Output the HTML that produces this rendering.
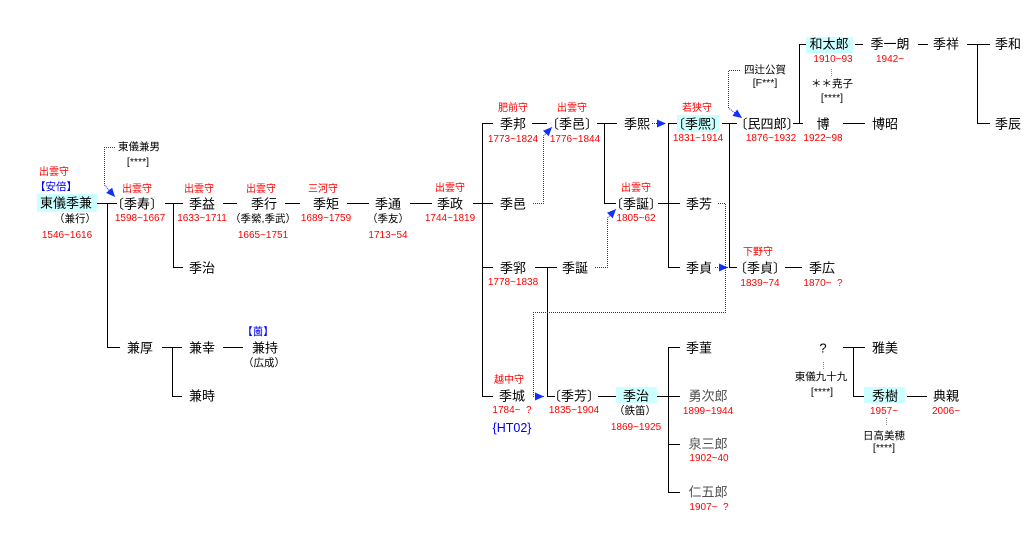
<!DOCTYPE html>
<html><head><meta charset="utf-8">
<style>
html,body{margin:0;padding:0;background:#fff;}
#c{position:relative;width:1030px;height:542px;overflow:hidden;background:#fff;font-family:"Liberation Sans","Noto Sans CJK JP",sans-serif;}
.t{position:absolute;transform:translate(-50%,-50%);white-space:nowrap;line-height:1;}
.n{font-size:13px;color:#000;}
.g{font-size:13px;color:#505050;}
.r{font-size:10px;color:#ff0000;}
.s{font-size:10.5px;color:#000;}
.b{font-size:10.5px;color:#0000ff;}
.hb{position:absolute;background:#ccffff;}
.l13{margin-left:-6px}.r13{margin-right:-6px}
.l11{margin-left:-5px}.r11{margin-right:-5px}
svg{position:absolute;left:0;top:0;}
</style></head><body>
<div id="c">
<div class="hb" style="left:37px;top:194px;width:60px;height:18px"></div>
<div class="hb" style="left:677px;top:115px;width:42px;height:17px"></div>
<div class="hb" style="left:806px;top:37px;width:47px;height:16px"></div>
<div class="hb" style="left:616px;top:387px;width:41px;height:16px"></div>
<div class="hb" style="left:864px;top:387px;width:41px;height:16px"></div>

<svg width="1030" height="542" viewBox="0 0 1030 542">
<defs>
<marker id="a" markerWidth="10" markerHeight="8" refX="9" refY="4" orient="auto" markerUnits="userSpaceOnUse"><path d="M0,0 L9,4 L0,8 z" fill="#1030ff" stroke="none"/></marker>
</defs>
<path fill="none" stroke="#000" stroke-width="1" shape-rendering="crispEdges" d="
M97 203.5H117
M107.5 203V348
M107 347.5H120
M165 203.5H183
M173.5 203V268
M173 267.5H183
M223 203.5H237
M285 203.5H300
M347 203.5H369
M410 203.5H432
M473 203.5H493
M482.5 123V397
M482 123.5H493
M482 267.5H493
M482 396.5H493
M532 123.5H547
M597 123.5H617
M604.5 123V204
M604 203.5H616
M535 267.5H557
M547.5 267V397
M547 396.5H555
M658 203.5H680
M668.5 123V268
M668 123.5H677
M668 267.5H680
M722 123.5H737
M729.5 123V268
M729 267.5H737
M785 267.5H802
M793 123.5H803
M799.5 44V124
M799 44.5H806
M855 44.5H863
M918 44.5H928
M967 44.5H990
M977.5 44V124
M977 123.5H990
M843 123.5H865
M598 396.5H616
M657 396.5H680
M668.5 347V493
M668 347.5H680
M668 444.5H680
M668 492.5H680
M162 347.5H182
M172.5 347V397
M172 396.5H182
M223 347.5H243
M843 347.5H865
M853.5 347V397
M853 396.5H864
M907 396.5H927"/>
<g fill="none" stroke="#2020ff" stroke-width="1" stroke-dasharray="1 1">
<path d="M115 147.5H104.5V185L115 197" marker-end="url(#a)"/>
<path d="M533 203.5H543.5V136L552 127" marker-end="url(#a)"/>
<path d="M595 267.5H607.5V218L616 209" marker-end="url(#a)"/>
<path d="M652 123.5H666" marker-end="url(#a)"/>
<path d="M718 203.5H725.5V312.5H533.5V396.5H544" marker-end="url(#a)"/>
<path d="M715 267.5H728" marker-end="url(#a)"/>
<path d="M740 70.5H728.5V108L742 118" marker-end="url(#a)"/>
</g>
<g fill="none" stroke="#888" stroke-width="1" stroke-dasharray="1 1" shape-rendering="crispEdges">
<path d="M831.5 69V76M823.5 362V370M886.5 418V426"/>
</g>
</svg>

<!-- names -->
<div class="t n" style="left:66px;top:203px">東儀季兼</div>
<div class="t n" style="left:137px;top:204px"><span class="l13">〔</span>季寿<span class="r13">〕</span></div>
<div class="t n" style="left:202px;top:204px">季益</div>
<div class="t n" style="left:264px;top:204px">季行</div>
<div class="t n" style="left:326px;top:204px">季矩</div>
<div class="t n" style="left:388px;top:204px">季通</div>
<div class="t n" style="left:450px;top:204px">季政</div>
<div class="t n" style="left:202px;top:268px">季治</div>
<div class="t n" style="left:140px;top:348px">兼厚</div>
<div class="t n" style="left:202px;top:348px">兼幸</div>
<div class="t n" style="left:265px;top:348px">兼持</div>
<div class="t n" style="left:202px;top:396px">兼時</div>
<div class="t n" style="left:513px;top:124px">季邦</div>
<div class="t n" style="left:572px;top:124px"><span class="l13">〔</span>季邑<span class="r13">〕</span></div>
<div class="t n" style="left:637px;top:124px">季熙</div>
<div class="t n" style="left:698px;top:124px"><span class="l13">〔</span>季熈<span class="r13">〕</span></div>
<div class="t n" style="left:767px;top:124px"><span class="l13">〔</span>民四郎<span class="r13">〕</span></div>
<div class="t n" style="left:823px;top:124px">博</div>
<div class="t n" style="left:885px;top:124px">博昭</div>
<div class="t n" style="left:829px;top:44px">和太郎</div>
<div class="t n" style="left:890px;top:44px">季一朗</div>
<div class="t n" style="left:946px;top:44px">季祥</div>
<div class="t n" style="left:1008px;top:44px">季和</div>
<div class="t n" style="left:1008px;top:124px">季辰</div>
<div class="t n" style="left:513px;top:204px">季邑</div>
<div class="t n" style="left:636px;top:204px"><span class="l13">〔</span>季誕<span class="r13">〕</span></div>
<div class="t n" style="left:699px;top:204px">季芳</div>
<div class="t n" style="left:513px;top:268px">季郛</div>
<div class="t n" style="left:575px;top:268px">季誕</div>
<div class="t n" style="left:699px;top:268px">季貞</div>
<div class="t n" style="left:760px;top:268px"><span class="l13">〔</span>季貞<span class="r13">〕</span></div>
<div class="t n" style="left:822px;top:268px">季広</div>
<div class="t n" style="left:512px;top:396px">季城</div>
<div class="t n" style="left:574px;top:396px"><span class="l13">〔</span>季芳<span class="r13">〕</span></div>
<div class="t n" style="left:636px;top:396px">季治</div>
<div class="t n" style="left:699px;top:348px">季菫</div>
<div class="t g" style="left:708px;top:396px">勇次郎</div>
<div class="t g" style="left:708px;top:444px">泉三郎</div>
<div class="t g" style="left:708px;top:492px">仁五郎</div>
<div class="t n" style="left:823px;top:348px">?</div>
<div class="t n" style="left:885px;top:348px">雅美</div>
<div class="t n" style="left:885px;top:396px">秀樹</div>
<div class="t n" style="left:946px;top:396px">典親</div>

<!-- red titles -->
<div class="t r" style="left:54px;top:173px">出雲守</div>
<div class="t r" style="left:137px;top:190px">出雲守</div>
<div class="t r" style="left:199px;top:190px">出雲守</div>
<div class="t r" style="left:261px;top:190px">出雲守</div>
<div class="t r" style="left:323px;top:190px">三河守</div>
<div class="t r" style="left:450px;top:189px">出雲守</div>
<div class="t r" style="left:513px;top:109px">肥前守</div>
<div class="t r" style="left:572px;top:109px">出雲守</div>
<div class="t r" style="left:697px;top:109px">若狭守</div>
<div class="t r" style="left:636px;top:189px">出雲守</div>
<div class="t r" style="left:758px;top:253px">下野守</div>
<div class="t r" style="left:509px;top:381px">越中守</div>

<!-- dates -->
<div class="t r" style="left:67px;top:236px">1546~1616</div>
<div class="t r" style="left:140px;top:219px">1598~1667</div>
<div class="t r" style="left:202px;top:219px">1633~1711</div>
<div class="t r" style="left:263px;top:236px">1665~1751</div>
<div class="t r" style="left:326px;top:219px">1689~1759</div>
<div class="t r" style="left:388px;top:236px">1713~54</div>
<div class="t r" style="left:450px;top:219px">1744~1819</div>
<div class="t r" style="left:513px;top:140px">1773~1824</div>
<div class="t r" style="left:575px;top:140px">1776~1844</div>
<div class="t r" style="left:513px;top:283px">1778~1838</div>
<div class="t r" style="left:636px;top:219px">1805~62</div>
<div class="t r" style="left:698px;top:139px">1831~1914</div>
<div class="t r" style="left:760px;top:284px">1839~74</div>
<div class="t r" style="left:823px;top:284px">1870~&nbsp;&nbsp;?</div>
<div class="t r" style="left:771px;top:139px">1876~1932</div>
<div class="t r" style="left:823px;top:139px">1922~98</div>
<div class="t r" style="left:833px;top:60px">1910~93</div>
<div class="t r" style="left:890px;top:60px">1942~</div>
<div class="t r" style="left:512px;top:411px">1784~&nbsp;&nbsp;?</div>
<div class="t r" style="left:574px;top:411px">1835~1904</div>
<div class="t r" style="left:636px;top:428px">1869~1925</div>
<div class="t r" style="left:708px;top:412px">1899~1944</div>
<div class="t r" style="left:709px;top:459px">1902~40</div>
<div class="t r" style="left:709px;top:508px">1907~&nbsp;&nbsp;?</div>
<div class="t r" style="left:884px;top:412px">1957~</div>
<div class="t r" style="left:946px;top:412px">2006~</div>

<!-- blue -->
<div class="t b" style="left:56px;top:187px"><span class="l11">【</span>安倍<span class="r11">】</span></div>
<div class="t b" style="left:258px;top:332px"><span class="l11">【</span>薗<span class="r11">】</span></div>
<div class="t" style="left:512px;top:428px;font-size:12.5px;color:#0000ff">{HT02}</div>

<!-- black annotations -->
<div class="t s" style="left:139px;top:147px">東儀兼男</div>
<div class="t s" style="left:138px;top:162px">[****]</div>
<div class="t s" style="left:75px;top:219px"><span class="l11">（</span>兼行<span class="r11">）</span></div>
<div class="t s" style="left:263px;top:219px"><span class="l11">（</span>季縈,季武<span class="r11">）</span></div>
<div class="t s" style="left:388px;top:219px"><span class="l11">（</span>季友<span class="r11">）</span></div>
<div class="t s" style="left:765px;top:70px">四辻公賀</div>
<div class="t s" style="left:765px;top:83px">[F***]</div>
<div class="t s" style="left:832px;top:84px">＊＊尭子</div>
<div class="t s" style="left:832px;top:98px">[****]</div>
<div class="t s" style="left:635px;top:411px"><span class="l11">（</span>鉄笛<span class="r11">）</span></div>
<div class="t s" style="left:264px;top:363px"><span class="l11">（</span>広成<span class="r11">）</span></div>
<div class="t s" style="left:821px;top:377px">東儀九十九</div>
<div class="t s" style="left:822px;top:392px">[****]</div>
<div class="t s" style="left:884px;top:436px">日高美穂</div>
<div class="t s" style="left:884px;top:448px">[****]</div>
</div>
</body></html>
